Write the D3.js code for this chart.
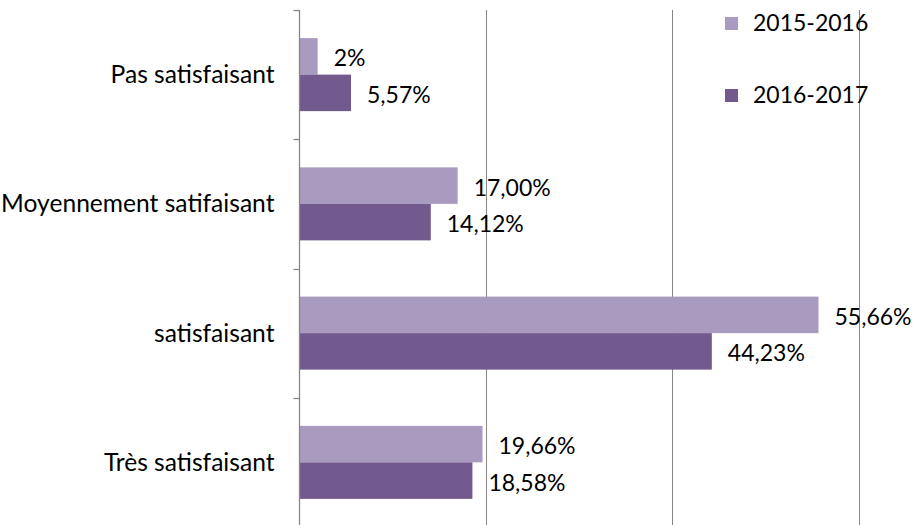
<!DOCTYPE html>
<html>
<head>
<meta charset="utf-8">
<script src="https://cdn.jsdelivr.net/npm/d3@7"></script>
<style>
  html, body { margin: 0; padding: 0; background: #fff; }
  svg { display: block; }
  text { font-family: Lato, "Open Sans", sans-serif; fill: #000; }
</style>
</head>
<body>
<svg id="chart" width="918" height="525"></svg>
<script>
const categories = ["Pas satisfaisant", "Moyennement satifaisant", "satisfaisant", "Très satisfaisant"];
const seriesNames = ["2015-2016", "2016-2017"];
const values2015 = [2, 17.00, 55.66, 19.66];
const values2016 = [5.57, 14.12, 44.23, 18.58];
const labels2015 = ["2%", "17,00%", "55,66%", "19,66%"];
const labels2016 = ["5,57%", "14,12%", "44,23%", "18,58%"];
const xTicks = [0, 20, 40, 60];
const colors = ["#A99BBF", "#72598E"];

const svg = d3.select("#chart");
const plotLeft = 299, plotRight = 859, plotTop = 10, plotBottom = 527;
const numFontSize = 23;
const catFontSize = 24.6;

const x = d3.scaleLinear().domain([0, 60]).range([plotLeft, plotRight]);
const y = d3.scaleBand().domain(categories).range([plotTop, plotBottom])
  .paddingInner(0.435).paddingOuter(0.2175);
const ySub = d3.scaleBand().domain(seriesNames).range([0, y.bandwidth()]);

const gridColor = "#878787";

// gridlines
svg.append("g").selectAll("line").data(xTicks.slice(1)).join("line")
  .attr("x1", d => Math.round(x(d)) + 0.5).attr("x2", d => Math.round(x(d)) + 0.5)
  .attr("y1", plotTop).attr("y2", plotBottom)
  .attr("stroke", gridColor).attr("stroke-width", 1);

// series data
const series = seriesNames.map((s, i) => ({
  name: s,
  color: colors[i],
  values: i === 0 ? values2015 : values2016,
  labels: i === 0 ? labels2015 : labels2016
}));

const gBars = svg.append("g");
series.forEach(s => {
  gBars.append("g").selectAll("rect").data(categories).join("rect")
    .attr("x", x(0))
    .attr("y", (c) => y(c) + ySub(s.name))
    .attr("width", (c, i) => x(s.values[i]) - x(0))
    .attr("height", ySub.bandwidth())
    .attr("fill", s.color);
  gBars.append("g").selectAll("text").data(categories).join("text")
    .attr("x", (c, i) => x(s.values[i]) + 16)
    .attr("y", (c) => y(c) + ySub(s.name) + ySub.bandwidth() / 2 + 2)
    .attr("dy", "0.35em")
    .attr("font-size", numFontSize)
    .text((c, i) => s.labels[i]);
});

// vertical axis
const axisX = Math.round(x(0)) + 0.5;
svg.append("line")
  .attr("x1", axisX).attr("x2", axisX).attr("y1", plotTop).attr("y2", plotBottom)
  .attr("stroke", gridColor).attr("stroke-width", 1.3);
const tickPos = d3.range(categories.length + 1).map(i => plotTop + i * y.step());
svg.append("g").selectAll("line").data(tickPos).join("line")
  .attr("x1", axisX - 6).attr("x2", axisX)
  .attr("y1", d => Math.round(d) + 0.5).attr("y2", d => Math.round(d) + 0.5)
  .attr("stroke", gridColor).attr("stroke-width", 1.3);

// category labels
svg.append("g").selectAll("text").data(categories).join("text")
  .attr("x", axisX - 25)
  .attr("y", d => y(d) + y.bandwidth() / 2)
  .attr("dy", "0.35em")
  .attr("text-anchor", "end")
  .attr("font-size", catFontSize)
  .text(d => d);

// legend
const legend = svg.append("g");
series.forEach((s, i) => {
  const ly = 23 + i * 72;
  legend.append("rect").attr("x", 725).attr("y", ly - 6).attr("width", 13).attr("height", 13).attr("fill", s.color);
  legend.append("text").attr("x", 753).attr("y", ly).attr("dy", "0.35em")
    .attr("font-size", numFontSize).text(s.name);
});
</script>
</body>
</html>
